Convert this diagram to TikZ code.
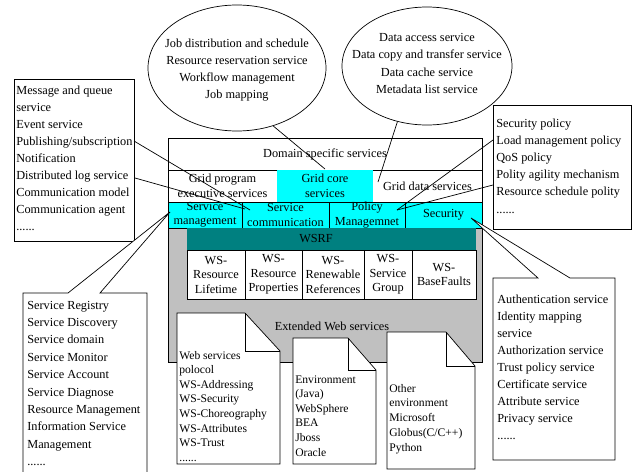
\documentclass[tikz,border=0pt]{standalone}
\usepackage{fontspec}
\setmainfont{Liberation Serif}
\usetikzlibrary{shapes.geometric}
\definecolor{cyanc}{RGB}{0,255,255}
\definecolor{tealc}{RGB}{0,128,128}
\definecolor{grayc}{RGB}{192,192,192}
\newcommand\fA{\fontsize{12.3}{14.5}\selectfont}
\newcommand\fD{\fontsize{11.6}{14}\selectfont}
\newcommand\sixdots{......}
\begin{document}
\begin{tikzpicture}[x=1pt,y=-1pt,line width=0.7pt,
  cell/.style={draw,inner sep=0pt,align=center,font=\fA},
  lst/.style={inner sep=0pt,anchor=base west,font=\fA},
  dlst/.style={inner sep=0pt,anchor=base west,font=\fD},
  elst/.style={inner sep=0pt,anchor=base,font=\fA},
  conn/.style={draw,line width=0.7pt},
  bubble/.style={draw,fill=white,line width=0.7pt},
  docshape/.style={draw,fill=white,line width=0.7pt}]
\useasboundingbox (0,0) rectangle (633,472);

% ---------- main block ----------
\node[cell,fill=grayc,minimum width=314pt,minimum height=134pt] (gray) at (325,295) {};
\node[cell,minimum width=314pt,minimum height=32pt] (dom) at (325,154) {Domain specific services};
\node[cell,minimum width=109pt,minimum height=32pt] (gpe) at (222.5,186) {Grid program\\executive services};
\node[inner sep=0pt,fill=cyanc,minimum width=96pt,minimum height=32pt,align=center,font=\fA] (gcs) at (325,186) {Grid core\\services};
\node[inner sep=0pt,minimum width=109pt,minimum height=32pt,align=center,font=\fA] (gds) at (427.5,186) {Grid data services};
\draw (168,202) -- (482,202);
\draw (168,170) -- (168,202) (482,170) -- (482,202);
\node[cell,fill=cyanc,minimum width=74pt,minimum height=26pt] (sman) at (205,215) {Service\\management};
\node[cell,fill=cyanc,minimum width=87pt,minimum height=26pt] (scom) at (285.5,215) {Service\\communication};
\node[cell,fill=cyanc,minimum width=76pt,minimum height=26pt] (pol) at (367,215) {Policy\\Managemnet};
\node[cell,fill=cyanc,minimum width=77pt,minimum height=26pt] (sec) at (443.5,215) {Security};
\node[inner sep=0pt,fill=tealc,minimum width=289pt,minimum height=22pt] (wsrfbar) at (331.5,239) {};
\node[inner sep=0pt,font=\fA,text=black] (wsrf) at (316,239) {WSRF};
\node[cell,fill=white,minimum width=58pt,minimum height=49pt] (ws1) at (216,274.5) {WS-\\Resource\\Lifetime};
\node[cell,fill=white,minimum width=57pt,minimum height=49pt] (ws2) at (273.5,274.5) {WS-\\Resource\\Properties};
\node[cell,fill=white,minimum width=62pt,minimum height=49pt] (ws3) at (333,274.5) {WS-\\Renewable\\References};
\node[cell,fill=white,minimum width=48pt,minimum height=49pt] (ws4) at (388,274.5) {WS-\\Service\\Group};
\node[cell,fill=white,minimum width=64pt,minimum height=49pt] (ws5) at (444,274.5) {WS-\\BaseFaults};
\node[inner sep=0pt,font=\fA] (ext) at (332,326) {Extended Web services};
\draw (168,138) rectangle (482,362);

% ---------- documents ----------
\coordinate (d1a) at (177,313); \coordinate (d1f) at (245,313); \coordinate (d1g) at (280,351); \coordinate (d1b) at (280,464);
\draw[docshape] (d1a) -- (d1f) -- (d1g) -- (d1b) -- (177,464) -- cycle;
\draw (d1f) -- (245,351) -- (d1g);
\foreach \t [count=\i from 0] in {Web services,polocol,WS-Addressing,WS-Security,WS-Choreography,WS-Attributes,WS-Trust,\sixdots}
  \node[dlst] (da\i) at (179,359+\i*14.6) {\t};

\coordinate (d2a) at (293,338); \coordinate (d2f) at (348,338); \coordinate (d2g) at (376,370); \coordinate (d2b) at (376,464);
\draw[docshape] (d2a) -- (d2f) -- (d2g) -- (d2b) -- (293,464) -- cycle;
\draw (d2f) -- (348,370) -- (d2g);
\foreach \t [count=\i from 0] in {Environment,(Java),WebSphere,BEA,Jboss,Oracle}
  \node[dlst] (db\i) at (295,383+\i*14.6) {\t};

\coordinate (d3a) at (387,332); \coordinate (d3f) at (446,332); \coordinate (d3g) at (475,366); \coordinate (d3b) at (475,469);
\draw[docshape] (d3a) -- (d3f) -- (d3g) -- (d3b) -- (387,469) -- cycle;
\draw (d3f) -- (446,366) -- (d3g);
\foreach \t [count=\i from 0] in {Other,environment,Microsoft,Globus(C/C++),Python}
  \node[dlst] (dc\i) at (389,392+\i*14.75) {\t};

% ---------- ellipses ----------
\node[draw,ellipse,minimum width=178pt,minimum height=126pt,inner sep=0pt] (el1) at (237,68) {};
\foreach \t [count=\i from 0] in {Job distribution and schedule,Resource reservation service,Workflow management,Job mapping}
  \node[elst] (ea\i) at (237,47+\i*17) {\t};
\node[draw,ellipse,minimum width=170pt,minimum height=118pt,inner sep=0pt] (el2) at (427,66) {};
\foreach \t [count=\i from 0] in {Data access service,Data copy and transfer service,Data cache service,Metadata list service}
  \node[elst] (eb\i) at (427,41+\i*17.5) {\t};

% ---------- left top box ----------
\node[draw,inner sep=0pt,minimum width=120pt,minimum height=162pt] (ltbox) at (74,160) {};
\foreach \t [count=\i from 0] in {Message and queue,service,Event service,Publishing/subscription,Notification,Distributed log service,Communication model,Communication agent,\sixdots}
  \node[lst] (lt\i) at (16,94+\i*17.1) {\t};

% ---------- right top box ----------
\node[draw,inner sep=0pt,minimum width=138pt,minimum height=124pt] (rtbox) at (562,167) {};
\foreach \t [count=\i from 0] in {Security policy,Load management policy,QoS policy,Polity agility mechanism,Resource schedule polity,\sixdots}
  \node[lst] (rt\i) at (496,127+\i*17.2) {\t};

% ---------- callouts ----------
\coordinate (tipL) at (170,212);
\draw[bubble] (23,293) -- (68,293) -- (tipL) -- (100,293) -- (147,293) -- (147,480) -- (23,480) -- cycle;
\foreach \t [count=\i from 0] in {Service Registry,Service Discovery,Service domain,Service Monitor,Service Account,Service Diagnose,Resource Management,Information Service,Management,\sixdots}
  \node[lst] (lb\i) at (27,309+\i*17.4) {\t};

\coordinate (tipR) at (471,218);
\draw[bubble] (493,278) -- (538,278) -- (tipR) -- (570,278) -- (615,278) -- (615,460) -- (493,460) -- cycle;
\foreach \t [count=\i from 0] in {Authentication service,Identity mapping,service,Authorization service,Trust policy service,Certificate service,Attribute service,Privacy service,\sixdots}
  \node[lst] (rb\i) at (497,303+\i*17.1) {\t};

% ---------- connectors ----------
\coordinate (cA) at (250,210);
\coordinate (cB) at (245,209);
\coordinate (sA) at (134,141);
\coordinate (sB) at (135,178);
\draw[conn] (sA) -- (cA);
\draw[conn] (sB) -- (cB);
\coordinate (cP) at (397,210);
\coordinate (sP1) at (493,140);
\coordinate (sP2) at (493,185);
\draw[conn] (sP1) -- (cP);
\draw[conn] (sP2) -- (cP);
\coordinate (cG) at (325,169);
\draw[conn] (el1.-58) -- (cG);
\coordinate (cD) at (378,182);
\draw[conn] (el2.-118) -- (cD);
\end{tikzpicture}
\end{document}
